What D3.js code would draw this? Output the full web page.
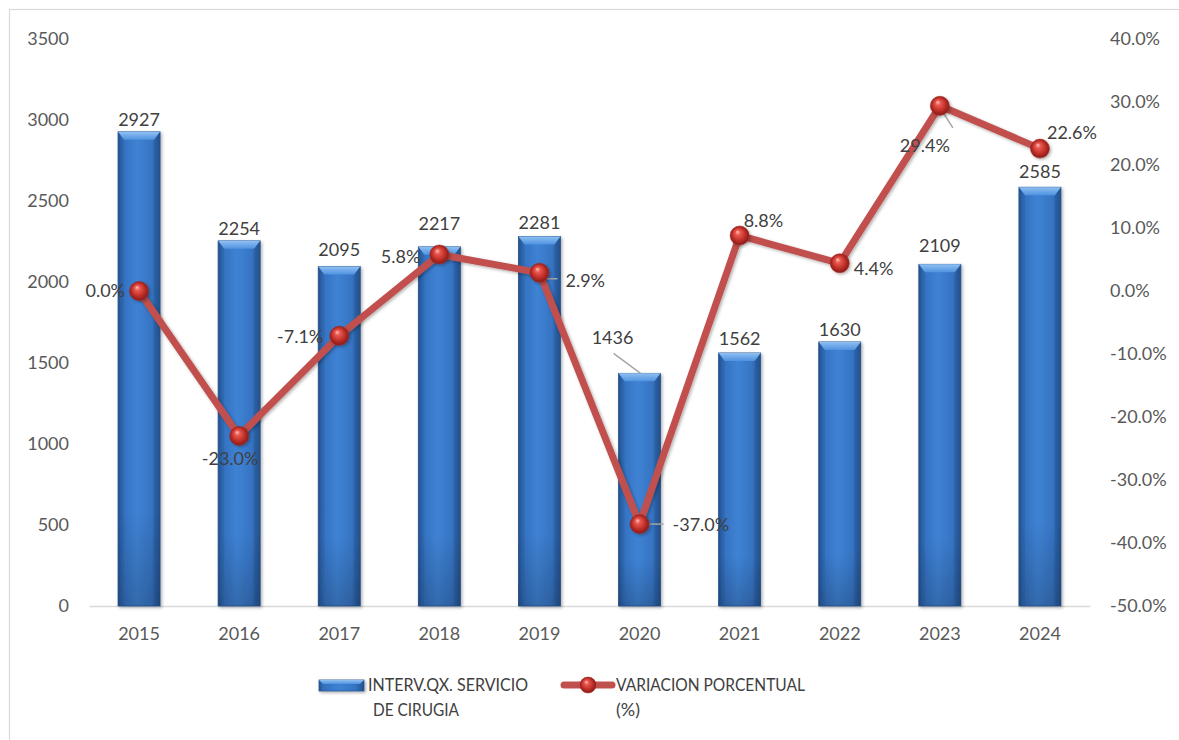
<!DOCTYPE html>
<html><head><meta charset="utf-8">
<script src="https://cdn.jsdelivr.net/npm/d3@7"></script>
<style>
html,body{margin:0;padding:0;background:#fff;}
svg{display:block;font-family:Lato,"Open Sans",sans-serif;}
</style></head>
<body>
<svg id="chart" width="1179" height="740"></svg>
<script>
// ---- data ----
const years = ["2015","2016","2017","2018","2019","2020","2021","2022","2023","2024"];
const interventions = [2927,2254,2095,2217,2281,1436,1562,1630,2109,2585];
const variation = [0.0,-23.0,-7.1,5.8,2.9,-37.0,8.8,4.4,29.4,22.6];
const leftTicks = [0,500,1000,1500,2000,2500,3000,3500];
const rightTicks = [-50,-40,-30,-20,-10,0,10,20,30,40];
const seriesNames = [["INTERV.QX. SERVICIO","DE CIRUGIA"],["VARIACION PORCENTUAL","(%)"]];

// ---- label layout (separate from data) ----
const barLabelGap = [12,12,17,23,14,36,14,12,19,16];      // label centre above bar top
const barLabelDx  = [0,0,0,0,0,-27,0,0,0,0];
const barLeader   = [null,null,null,null,null,true,null,null,null,null];
// line labels: [anchor, dx, dy] relative to point (dy to text centre)
const lineLabel = [
  ["end",-14,0],["middle",-9,23],["end",-16,1],["end",-19,2],["start",26,8],
  ["start",33,1],["start",4,-15],["start",14,5],["middle",-15,40],["start",7,-16]
];
const lineLeader = [null,null,null,null,[1,6,18,6],[1,0,24,0],null,null,[1,3,13,22],null];
const legendWidths = [[160,86],[189,24]];

const svg = d3.select("#chart");
const plot = {l:89, r:1090, t:39, b:606};

// frame
svg.append("rect").attr("x",9.5).attr("y",9.5).attr("width",1300).attr("height",900)
  .attr("fill","none").attr("stroke","#d9d9d9").attr("stroke-width",1.2);

const defs = svg.append("defs");
const bg = defs.append("linearGradient").attr("id","barGrad").attr("x1","0").attr("x2","1").attr("y1","0").attr("y2","0");
[["0%","#24528f"],["10%","#3370bf"],["45%","#3f82d4"],["80%","#3674c3"],["100%","#24518c"]]
  .forEach(s=>bg.append("stop").attr("offset",s[0]).attr("stop-color",s[1]));
const tg = defs.append("linearGradient").attr("id","bevelTop").attr("x1","0").attr("x2","0").attr("y1","0").attr("y2","1");
[["0%","#8fc0f2"],["100%","#4f92e0"]].forEach(s=>tg.append("stop").attr("offset",s[0]).attr("stop-color",s[1]));
const vg = defs.append("linearGradient").attr("id","barShade").attr("x1","0").attr("x2","0").attr("y1","0").attr("y2","1");
[["0%","#ffffff",0.0],["80%","#000000",0.0],["100%","#000000",0.18]].forEach(s=>vg.append("stop").attr("offset",s[0]).attr("stop-color",s[1]).attr("stop-opacity",s[2]));
const rg = defs.append("radialGradient").attr("id","ball").attr("cx","50%").attr("cy","50%").attr("r","55%").attr("fx","38%").attr("fy","30%");
[["0%","#ffc2bb"],["25%","#e8584f"],["60%","#c3312b"],["100%","#7c1613"]]
  .forEach(s=>rg.append("stop").attr("offset",s[0]).attr("stop-color",s[1]));
const sh = defs.append("filter").attr("id","shadow").attr("x","-20%").attr("y","-20%").attr("width","150%").attr("height","150%");
sh.append("feDropShadow").attr("dx",1.5).attr("dy",1.5).attr("stdDeviation",1.5).attr("flood-color","#000").attr("flood-opacity",0.3);

const x = d3.scaleBand().domain(years).range([plot.l, plot.r]).paddingInner(0.58).paddingOuter(0.29);
const yL = d3.scaleLinear().domain([0,3500]).range([plot.b, plot.t]);
const yR = d3.scaleLinear().domain([-50,40]).range([plot.b, plot.t]);

const textCol = "#595959", labelCol = "#404040";

// left axis
const gl = svg.append("g").attr("transform",`translate(${69},0)`)
  .call(d3.axisLeft(yL).tickValues(leftTicks).tickSize(0).tickPadding(0).tickFormat(d3.format("d")));
gl.select(".domain").remove();
gl.selectAll("text").attr("fill",textCol).style("font-size","18px").style("font-family","Lato");

// right axis
const gr = svg.append("g").attr("transform",`translate(${1110},0)`)
  .call(d3.axisRight(yR).tickValues(rightTicks).tickSize(0).tickPadding(0).tickFormat(d=>d.toFixed(1)+"%"));
gr.select(".domain").remove();
gr.selectAll("text").attr("fill",textCol).style("font-size","18px").style("font-family","Lato");

// bottom axis
const gb = svg.append("g").attr("transform",`translate(0,${plot.b})`)
  .call(d3.axisBottom(x).tickSize(0).tickPadding(21));
gb.select(".domain").attr("stroke","#d9d9d9").attr("stroke-width",1.5);
gb.selectAll("text").attr("fill",textCol).style("font-size","18px").style("font-family","Lato");

// bars
const bars = svg.append("g");
years.forEach((yr,i)=>{
  const x0 = x(yr), bw = x.bandwidth(), top = yL(interventions[i]), bot = yL(0);
  const g = bars.append("g").attr("filter","url(#shadow)");
  g.append("rect").attr("x",x0).attr("y",top).attr("width",bw).attr("height",bot-top)
    .attr("fill","url(#barGrad)").attr("stroke","#2a5690").attr("stroke-width",0.8);
  g.append("rect").attr("x",x0).attr("y",top).attr("width",bw).attr("height",bot-top)
    .attr("fill","url(#barShade)");
  const bv = 8, side = 6;
  g.append("path").attr("d",`M${x0},${top}L${x0+bw},${top}L${x0+bw-side},${top+bv}L${x0+side},${top+bv}Z`)
    .attr("fill","url(#bevelTop)");
  g.append("path").attr("d",`M${x0},${top}L${x0+side},${top+bv}L${x0+side},${bot}L${x0},${bot}Z`)
    .attr("fill","#1f4a85").attr("opacity",0.25);
  g.append("path").attr("d",`M${x0+bw},${top}L${x0+bw-side},${top+bv}L${x0+bw-side},${bot}L${x0+bw},${bot}Z`)
    .attr("fill","#1f4a85").attr("opacity",0.25);
});

// bar labels
years.forEach((yr,i)=>{
  const cx = x(yr)+x.bandwidth()/2, top = yL(interventions[i]);
  const ly = top - barLabelGap[i], lx = cx + barLabelDx[i];
  if (barLeader[i]) {
    svg.append("line").attr("x1",lx+1).attr("y1",ly+16).attr("x2",cx+1).attr("y2",top)
      .attr("stroke","#a6a6a6").attr("stroke-width",1.5);
  }
  svg.append("text").attr("x",lx).attr("y",ly).attr("dy","0.35em").attr("text-anchor","middle")
    .attr("fill",labelCol).style("font-size","18px").text(interventions[i]);
});

// line
const pts = years.map((yr,i)=>[x(yr)+x.bandwidth()/2, yR(variation[i])]);
svg.append("path").attr("d",d3.line()(pts)).attr("fill","none").attr("stroke","#c0504d")
  .attr("stroke-width",7).attr("stroke-linejoin","round").attr("filter","url(#shadow)");

// leaders for line labels
pts.forEach((p,i)=>{
  const L = lineLeader[i];
  if (L) svg.append("line").attr("x1",p[0]+L[0]).attr("y1",p[1]+L[1]).attr("x2",p[0]+L[2]).attr("y2",p[1]+L[3])
    .attr("stroke","#a6a6a6").attr("stroke-width",1.5);
});

// markers
svg.append("g").selectAll("circle").data(pts).join("circle")
  .attr("cx",d=>d[0]).attr("cy",d=>d[1]).attr("r",9.5).attr("fill","url(#ball)")
  .attr("stroke","#a52a24").attr("stroke-width",0.6).attr("filter","url(#shadow)");

// line labels
pts.forEach((p,i)=>{
  const [anc,dx,dy] = lineLabel[i];
  svg.append("text").attr("x",p[0]+dx).attr("y",p[1]+dy).attr("dy","0.35em").attr("text-anchor",anc)
    .attr("fill",labelCol).style("font-size","18px").text(variation[i].toFixed(1)+"%");
});

// legend
const lg = svg.append("g");
const sw = lg.append("g").attr("filter","url(#shadow)");
sw.append("rect").attr("x",319).attr("y",680).attr("width",45).attr("height",11).attr("fill","url(#barGrad)").attr("stroke","#2a5690").attr("stroke-width",0.8);
sw.append("path").attr("d","M319,680L364,680L360,684L323,684Z").attr("fill","url(#bevelTop)");
function legText(xp, yp, str, w){
  lg.append("text").attr("x",xp).attr("y",yp).attr("dy","0.35em").attr("fill",labelCol)
    .style("font-size","18px").attr("textLength",w).attr("lengthAdjust","spacingAndGlyphs").text(str);
}
legText(368,685,seriesNames[0][0],legendWidths[0][0]);
legText(373,710,seriesNames[0][1],legendWidths[0][1]);
lg.append("line").attr("x1",564).attr("y1",685).attr("x2",612).attr("y2",685).attr("stroke","#c0504d").attr("stroke-width",7).attr("stroke-linecap","round");
lg.append("circle").attr("cx",588).attr("cy",685).attr("r",8).attr("fill","url(#ball)").attr("stroke","#a52a24").attr("stroke-width",0.6);
legText(616,685,seriesNames[1][0],legendWidths[1][0]);
legText(616,710,seriesNames[1][1],legendWidths[1][1]);
</script>
</body></html>
